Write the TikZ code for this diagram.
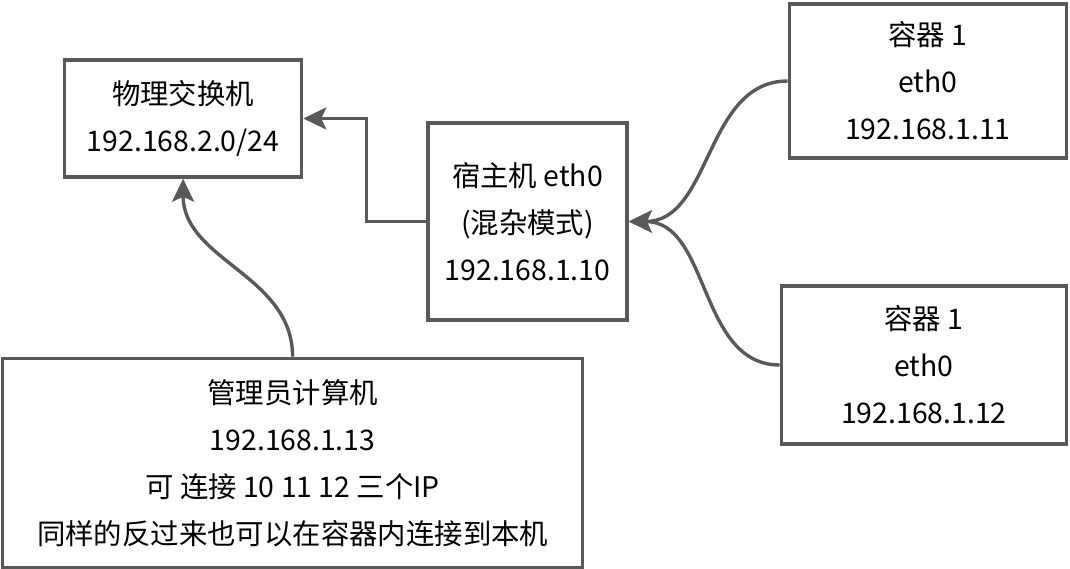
\documentclass[tikz,border=0pt]{standalone}
\usepackage{fontspec}
\newfontfamily\cjk{Noto Sans CJK SC}
\usetikzlibrary{arrows.meta,positioning}
\definecolor{edgegray}{RGB}{89,89,89}

\begin{document}
\begin{tikzpicture}[
    box/.style={
        rectangle,
        draw=edgegray,
        line width=3.4pt,
        align=center,
        font=\cjk\fontsize{28.4}{47}\selectfont,
        inner sep=0pt
    },
    arr/.style={-{Stealth[length=23pt,width=22pt,inset=5pt]}, draw=edgegray, line width=3.4pt},
]
\useasboundingbox (0,0) rectangle (1070pt,-568pt);

% nodes
\node[box, minimum width=199pt, minimum height=197pt] (host) at (527.5pt,-221.5pt)
    {宿主机 eth0\\(混杂模式)\\192.168.1.10};

\node[box, minimum width=237pt, minimum height=117pt,
      left=123pt of host, yshift=103pt] (switch)
    {物理交换机\\192.168.2.0/24};

\node[box, minimum width=277pt, minimum height=154pt,
      right=159pt of host, yshift=140.5pt] (cont1)
    {容器 1\\eth0\\192.168.1.11};

\node[box, minimum width=285pt, minimum height=158pt,
      right=151pt of host, yshift=-143.5pt] (cont2)
    {容器 1\\eth0\\192.168.1.12};

\node[box, minimum width=580pt, minimum height=209pt,
      below=178pt of switch, xshift=109.5pt] (admin)
    {管理员计算机\\192.168.1.13\\可 连接 10 11 12 三个IP\\同样的反过来也可以在容器内连接到本机};

% arrows
\draw[arr] (host.west) -- ++(-60pt,0) |- (switch.east);

\draw[arr] (cont1.west) to[out=180, in=0] (host.east);

\draw[arr] (cont2.west) to[out=180, in=0] (host.east);

\draw[arr] (admin.north) to[out=90, in=-90] (switch.south);

\end{tikzpicture}
\end{document}
